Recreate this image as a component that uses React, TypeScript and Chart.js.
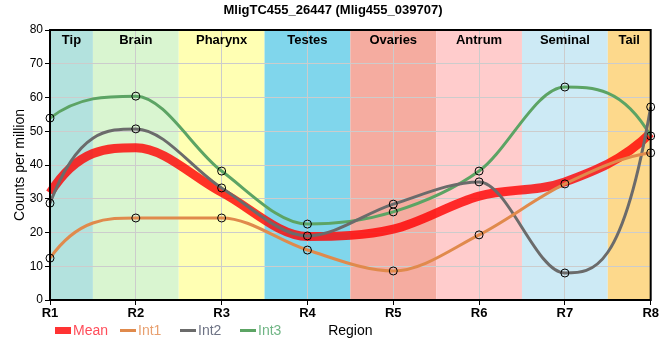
import React, { useEffect, useRef } from 'react';
import { Chart, registerables } from 'chart.js';

Chart.register(...registerables);

const regions = ['R1', 'R2', 'R3', 'R4', 'R5', 'R6', 'R7', 'R8'];
const bandNames = ['Tip', 'Brain', 'Pharynx', 'Testes', 'Ovaries', 'Antrum', 'Seminal', 'Tail'];
const bandColors = ['#b3e2de', '#d9f5d0', '#ffffb3', '#80d6ec', '#f5aca0', '#ffcccc', '#cdeaf5', '#fdd98c'];
const meanValues = [31.7, 45.1, 31.9, 18.8, 21.0, 30.8, 35.0, 49.5];
const int1Values = [12.4, 24.3, 24.3, 14.8, 8.6, 19.3, 34.4, 43.6];
const int2Values = [28.7, 50.7, 33.2, 19.0, 28.4, 35.0, 8.0, 57.2];
const int3Values = [53.9, 60.4, 38.2, 22.5, 26.1, 38.2, 63.1, 48.6];
const yTicks = [0, 10, 20, 30, 40, 50, 60, 70, 80];

const chartTitle = 'MligTC455_26447 (Mlig455_039707)';
const yTitle = 'Counts per million';
const xTitle = 'Region';

const FONT = '"Liberation Sans", Arial, sans-serif';

const legendItems = [
  { label: 'Mean', color: 'rgba(255,0,0,0.8)', text: '#ff4d5a', box: true },
  { label: 'Int1', color: '#e08a4c', text: '#e8a070', box: false },
  { label: 'Int2', color: '#6b6b6b', text: '#6e7385', box: false },
  { label: 'Int3', color: '#5ca464', text: '#70b585', box: false },
];

// End segments: zero curvature at the inner point of the first/last segment
const endTangentPlugin = {
  id: 'endTangent',
  beforeDatasetDraw(chart: any, args: any) {
    const meta = args.meta;
    const line = meta.dataset;
    if (!line || !line.updateControlPoints) return;
    line.updateControlPoints(chart.chartArea, meta.iAxis);
    const pts = meta.data;
    const n = pts.length;
    if (n < 3) return;
    const p0 = pts[0];
    const p1 = pts[1];
    p0.cp2x = p0.x + (p1.x - p0.x) / 3;
    p0.cp2y = 2 * p1.cp1y - p1.y;
    const pn = pts[n - 1];
    const pm = pts[n - 2];
    pn.cp1x = pn.x - (pn.x - pm.x) / 3;
    pn.cp1y = pm.y + 2 * (pm.cp2y - pm.y);
  },
};

const decorPlugin = {
  id: 'decor',
  beforeDraw(chart: any) {
    const { ctx, chartArea: a, scales } = chart;
    const x = scales.x;
    ctx.save();
    bandNames.forEach((name, i) => {
      const l = Math.max(a.left, x.getPixelForValue(i - 0.5));
      const r = Math.min(a.right, x.getPixelForValue(i + 0.5));
      ctx.fillStyle = bandColors[i];
      ctx.fillRect(l, a.top, r - l, a.bottom - a.top);
    });
    ctx.restore();
  },
  beforeDatasetsDraw(chart: any) {
    const { ctx, chartArea: a, scales } = chart;
    const x = scales.x;
    ctx.save();
    ctx.fillStyle = '#000';
    ctx.font = 'bold 13px ' + FONT;
    ctx.textAlign = 'center';
    ctx.textBaseline = 'alphabetic';
    bandNames.forEach((name, i) => {
      const l = Math.max(a.left, x.getPixelForValue(i - 0.5));
      const r = Math.min(a.right, x.getPixelForValue(i + 0.5));
      ctx.fillText(name, (l + r) / 2, a.top + 14);
    });
    ctx.restore();
  },
  afterDraw(chart: any) {
    const { ctx, chartArea: a } = chart;
    ctx.save();
    ctx.strokeStyle = '#000';
    ctx.lineWidth = 2;
    ctx.strokeRect(a.left, a.top, a.right - a.left, a.bottom - a.top);
    // title
    ctx.fillStyle = '#000';
    ctx.font = 'bold 13px ' + FONT;
    ctx.textAlign = 'center';
    ctx.textBaseline = 'alphabetic';
    ctx.fillText(chartTitle, 333, 14);
    // legend
    ctx.font = '14px ' + FONT;
    ctx.textAlign = 'left';
    let px = 55;
    legendItems.forEach((it, i) => {
      if (it.box) {
        ctx.fillStyle = it.color;
        ctx.fillRect(px, 327, 16, 7);
      } else {
        ctx.strokeStyle = it.color;
        ctx.lineWidth = 3;
        ctx.beginPath();
        ctx.moveTo(px, 330.5);
        ctx.lineTo(px + 16, 330.5);
        ctx.stroke();
      }
      ctx.fillStyle = it.text;
      ctx.fillText(it.label, px + 18, 335);
      px += i === 0 ? 65 : 60;
    });
    // x axis title
    ctx.fillStyle = '#000';
    ctx.textAlign = 'center';
    ctx.fillText(xTitle, (a.left + a.right) / 2, 335);
    ctx.restore();
  },
};

export default function App() {
  const ref = useRef<HTMLCanvasElement>(null);
  useEffect(() => {
    if (!ref.current) return;
    const pt = {
      pointRadius: 4,
      pointBorderColor: '#000',
      pointBorderWidth: 1,
      pointBackgroundColor: 'rgba(0,0,0,0)',
      pointHoverRadius: 4,
    };
    const chart = new Chart(ref.current, {
      type: 'line',
      data: {
        labels: regions,
        datasets: [
          {
            label: 'Mean',
            data: meanValues,
            borderColor: 'rgba(255,0,0,0.8)',
            backgroundColor: 'rgba(255,0,0,0.8)',
            borderWidth: 9,
            pointRadius: 0,
            cubicInterpolationMode: 'monotone',
            order: 10,
          },
          {
            label: 'Int1',
            data: int1Values,
            borderColor: '#e08a4c',
            borderWidth: 3,
            cubicInterpolationMode: 'monotone',
            order: 1,
            ...pt,
          },
          {
            label: 'Int2',
            data: int2Values,
            borderColor: '#6b6b6b',
            borderWidth: 3,
            cubicInterpolationMode: 'monotone',
            order: 2,
            ...pt,
          },
          {
            label: 'Int3',
            data: int3Values,
            borderColor: '#5ca464',
            borderWidth: 3,
            cubicInterpolationMode: 'monotone',
            order: 3,
            ...pt,
          },
        ],
      },
      options: {
        animation: false,
        responsive: true,
        maintainAspectRatio: false,
        layout: { padding: { top: 30, right: 9, left: 0, bottom: 0 } },
        plugins: {
          legend: { display: false },
          title: { display: false },
          tooltip: { enabled: false },
        },
        scales: {
          x: {
            type: 'category',
            offset: false,
            afterFit: (s: any) => { s.height = 60; },
            grid: { color: '#cccccc', tickColor: '#000', tickLength: 5, offset: false },
            border: { color: '#000', width: 2 },
            ticks: {
              color: '#000',
              font: { family: FONT, size: 13, weight: 'bold' },
              padding: 1,
              maxRotation: 0,
              autoSkip: false,
            },
          },
          y: {
            min: 0,
            max: 80,
            afterFit: (s: any) => { s.width = 50; },
            afterBuildTicks: (s: any) => { s.ticks = yTicks.map((v) => ({ value: v })); },
            grid: { color: '#cccccc', tickColor: '#000', tickLength: 5 },
            border: { color: '#000', width: 2 },
            ticks: {
              color: '#000',
              font: { family: FONT, size: 12 },
              padding: 2,
            },
            title: {
              display: true,
              text: yTitle,
              color: '#000',
              font: { family: FONT, size: 14 },
              padding: { top: 12, bottom: 0 },
            },
          },
        },
      },
      plugins: [endTangentPlugin, decorPlugin],
    });
    return () => chart.destroy();
  }, []);
  return (
    <div style={{ position: 'absolute', left: 0, top: 0, width: 660, height: 360 }}>
      <canvas ref={ref} />
    </div>
  );
}
